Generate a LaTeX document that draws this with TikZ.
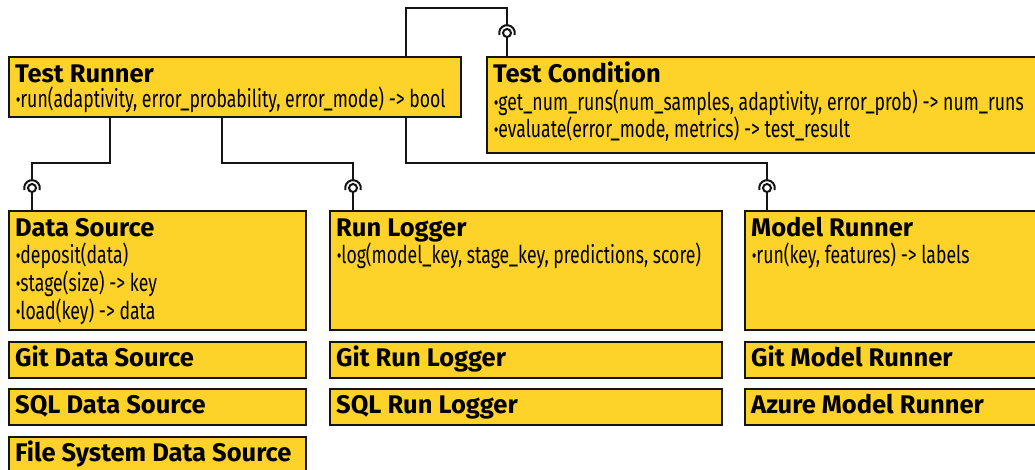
\documentclass[tikz,border=0pt]{standalone}
\usepackage{fontspec}
\setmainfont{Fira Sans}
\newfontfamily\methodfont{Fira Sans}[FakeStretch=0.72]
\usetikzlibrary{positioning}
\definecolor{classyellow}{RGB}{253,211,42}
\definecolor{classline}{RGB}{20,20,20}
\newcommand{\mdot}{{\bfseries ·}}
\tikzset{
    classbox/.style={draw=classline, fill=classyellow, line width=2pt, rectangle, anchor=north west, inner sep=0pt},
    classtitle/.style={anchor=base west, inner sep=0pt, font=\bfseries\fontsize{25.5}{25.5}\selectfont},
    method/.style={anchor=base west, inner sep=0pt, font=\methodfont\fontsize{24.5}{24.5}\selectfont},
    wire/.style={draw=classline, line width=2pt},
    lollipop/.pic={
        \draw[wire] (0,0) circle[radius=4];
        \draw[wire] (165:7.8) arc[start angle=165, end angle=375, radius=7.8];
        \coordinate (-top) at (0,-7.8);
        \coordinate (-bot) at (0,4);
    }
}
\begin{document}
\begin{tikzpicture}[x=1pt, y=-1pt]
    \useasboundingbox (0,0) rectangle (1035,469);
    \clip (0,0) rectangle (1035,469);
    % interfaces
    \node[classbox, minimum width=452pt, minimum height=60pt] (tr) at (8,56) {};
    \node[classtitle] (tr-name) at ([shift={(7,26)}]tr.north west) {Test Runner};
    \node[method] (tr-run) at ([shift={(8,51)}]tr.north west) {\mdot run(adaptivity, error\_probability, error\_mode) -> bool};
    \node[classbox, minimum width=580pt, minimum height=96pt] (tc) at (486,56) {};
    \node[classtitle] (tc-name) at ([shift={(7,26)}]tc.north west) {Test Condition};
    \node[method] (tc-runs) at ([shift={(8,54)}]tc.north west) {\mdot get\_num\_runs(num\_samples, adaptivity, error\_prob) -> num\_runs};
    \node[method] (tc-eval) at ([shift={(8,81)}]tc.north west) {\mdot evaluate(error\_mode, metrics) -> test\_result};
    \node[classbox, minimum width=297pt, minimum height=119pt] (ds) at (8,210) {};
    \node[classtitle] (ds-name) at ([shift={(7,26)}]ds.north west) {Data Source};
    \node[method] (ds-deposit) at ([shift={(8,53)}]ds.north west) {\mdot deposit(data)};
    \node[method] (ds-stage) at ([shift={(8,81)}]ds.north west) {\mdot stage(size) -> key};
    \node[method] (ds-load) at ([shift={(8,109)}]ds.north west) {\mdot load(key) -> data};
    \node[classbox, minimum width=392pt, minimum height=119pt] (rl) at (329,210) {};
    \node[classtitle] (rl-name) at ([shift={(7,26)}]rl.north west) {Run Logger};
    \node[method] (rl-log) at ([shift={(8,53)}]rl.north west) {\mdot log(model\_key, stage\_key, predictions, score)};
    \node[classbox, minimum width=320pt, minimum height=119pt] (mr) at (744,210) {};
    \node[classtitle] (mr-name) at ([shift={(7,26)}]mr.north west) {Model Runner};
    \node[method] (mr-run) at ([shift={(8,53)}]mr.north west) {\mdot run(key, features) -> labels};
    % implementations
    \node[classbox, minimum width=297pt, minimum height=36pt] (gds) at (8,341) {};
    \node[classtitle] (gds-name) at ([shift={(7,25)}]gds.north west) {Git Data Source};
    \node[classbox, minimum width=297pt, minimum height=36pt] (sds) at (8,388) {};
    \node[classtitle] (sds-name) at ([shift={(7,25)}]sds.north west) {SQL Data Source};
    \node[classbox, minimum width=297pt, minimum height=36pt] (fds) at (8,436) {};
    \node[classtitle] (fds-name) at ([shift={(7,25)}]fds.north west) {File System Data Source};
    \node[classbox, minimum width=392pt, minimum height=36pt] (grl) at (329,341) {};
    \node[classtitle] (grl-name) at ([shift={(7,25)}]grl.north west) {Git Run Logger};
    \node[classbox, minimum width=392pt, minimum height=36pt] (srl) at (329,388) {};
    \node[classtitle] (srl-name) at ([shift={(7,25)}]srl.north west) {SQL Run Logger};
    \node[classbox, minimum width=320pt, minimum height=36pt] (gmr) at (744,341) {};
    \node[classtitle] (gmr-name) at ([shift={(7,25)}]gmr.north west) {Git Model Runner};
    \node[classbox, minimum width=320pt, minimum height=36pt] (amr) at (744,388) {};
    \node[classtitle] (amr-name) at ([shift={(7,25)}]amr.north west) {Azure Model Runner};
    % connectors
    \coordinate (bend-tc) at (406,8);
    \coordinate (bend-ds) at (110,163);
    \coordinate (bend-rl) at (222,163);
    \coordinate (bend-mr) at (406,163);
    \pic (lp-tc) at (507,33) {lollipop};
    \pic (lp-ds) at (32,188) {lollipop};
    \pic (lp-rl) at (353,188) {lollipop};
    \pic (lp-mr) at (767,188) {lollipop};
    \draw[wire] (tr.north -| bend-tc) |- (bend-tc) -| (lp-tc-top);
    \draw[wire] (lp-tc-bot) -- (lp-tc-bot |- tc.north);
    \draw[wire] (tr.south -| bend-ds) -- (bend-ds) -| (lp-ds-top);
    \draw[wire] (lp-ds-bot) -- (lp-ds-bot |- ds.north);
    \draw[wire] (tr.south -| bend-rl) -- (bend-rl) -| (lp-rl-top);
    \draw[wire] (lp-rl-bot) -- (lp-rl-bot |- rl.north);
    \draw[wire] (tr.south -| bend-mr) -- (bend-mr) -| (lp-mr-top);
    \draw[wire] (lp-mr-bot) -- (lp-mr-bot |- mr.north);
\end{tikzpicture}
\end{document}
